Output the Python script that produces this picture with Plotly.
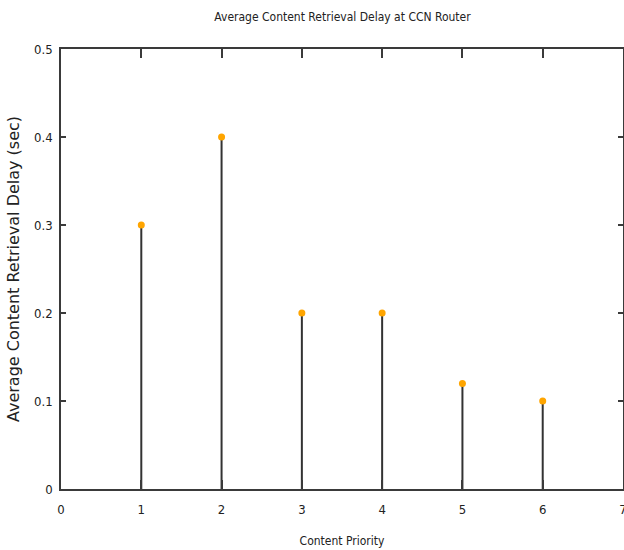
import plotly.graph_objects as go

priority = [1, 2, 3, 4, 5, 6]
delay = [0.3, 0.4, 0.2, 0.2, 0.12, 0.1]
x_ticks = [0, 1, 2, 3, 4, 5, 6, 7]
y_ticks = [0, 0.1, 0.2, 0.3, 0.4, 0.5]
y_labels = ["0", "0.1", "0.2", "0.3", "0.4", "0.5"]

cond = "DejaVu Sans Condensed, DejaVu Sans, sans-serif"
axcol = "#3a3a3a"

fig = go.Figure()
fig.add_trace(go.Scatter(
    x=priority, y=delay, mode="markers",
    marker=dict(color="#FFA500", size=7, line=dict(width=0)),
    error_y=dict(type="data", symmetric=False, array=[0] * len(delay),
                 arrayminus=delay, color="#333333", thickness=2, width=0),
    showlegend=False,
))

fig.update_layout(
    width=624, height=550,
    margin=dict(l=61, r=1, t=49, b=61),
    paper_bgcolor="white", plot_bgcolor="white",
    title=dict(text="Average Content Retrieval Delay at CCN Router",
               x=342.5 / 624, xanchor="center", xref="container",
               y=1 - 17 / 550, yanchor="middle", yref="container",
               font=dict(family=cond, size=12, color="#222")),
    xaxis=dict(range=[0, 7], tickvals=x_ticks, ticktext=[str(v) for v in x_ticks],
               automargin=False, ticklabeloverflow="allow",
               showgrid=False, zeroline=False, showline=True, linecolor=axcol, linewidth=1.5,
               mirror="ticks", ticks="inside", ticklen=9, tickcolor=axcol, tickwidth=1.5,
               ticklabelstandoff=8,
               tickfont=dict(family=cond, size=13, color="#222"),
               title=dict(text="Content Priority", font=dict(family=cond, size=12, color="#222"), standoff=20)),
    yaxis=dict(range=[0, 0.5], tickvals=y_ticks, ticktext=y_labels,
               automargin=False,
               showgrid=False, zeroline=False, showline=True, linecolor=axcol, linewidth=1.5,
               mirror="ticks", ticks="inside", ticklen=5, tickcolor=axcol, tickwidth=1.5,
               ticklabelstandoff=4,
               tickfont=dict(family=cond, size=13, color="#222"),
               title=dict(text="Average Content Retrieval Delay (sec)",
                          font=dict(family="DejaVu Sans, sans-serif", size=16, color="#222"), standoff=10)),
)

fig.write_html("out.html", config={"displayModeBar": False},
               post_script="document.body.style.margin='0px';")
